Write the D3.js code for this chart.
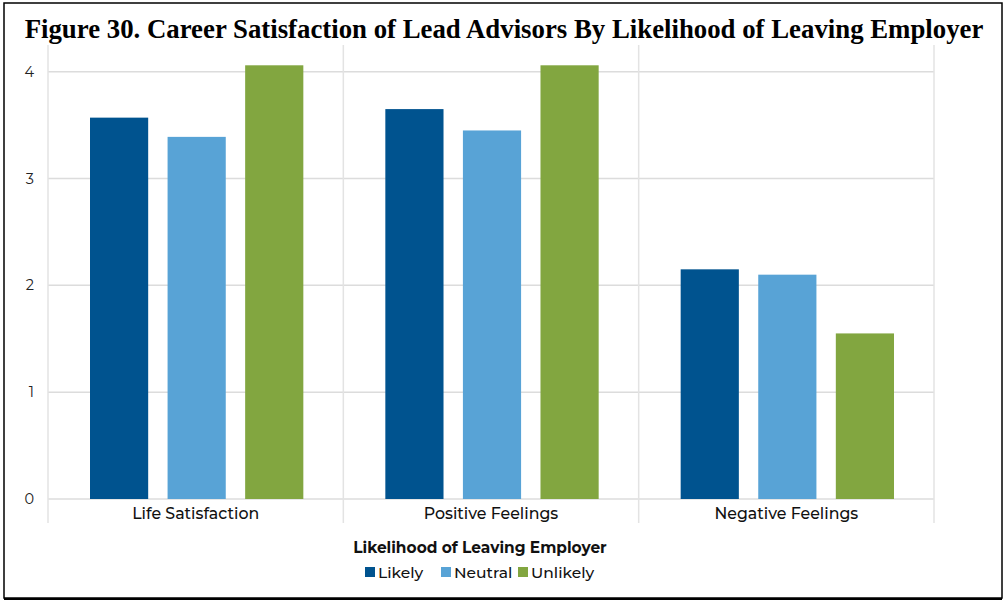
<!DOCTYPE html>
<html><head><meta charset="utf-8">
<script src="https://cdn.jsdelivr.net/npm/d3@7"></script>
<style>body{margin:0;background:#fff}svg{display:block}</style>
</head><body>
<script>
const categories = ["Life Satisfaction", "Positive Feelings", "Negative Feelings"];
const seriesNames = ["Likely", "Neutral", "Unlikely"];
const likely = [3.57, 3.65, 2.15];
const neutral = [3.39, 3.45, 2.10];
const unlikely = [4.06, 4.06, 1.55];
const yTicks = [0, 1, 2, 3, 4];
const colors = ["#00538F", "#58A3D6", "#82A640"];
const title = "Figure 30. Career Satisfaction of Lead Advisors By Likelihood of Leaving Employer";
const legendTitle = "Likelihood of Leaving Employer";

const W = 1005, H = 602;
const svg = d3.select("body").append("svg").attr("width", W).attr("height", H);
const font = "Montserrat, 'Open Sans', sans-serif";

// frame
svg.append("rect").attr("x", 4).attr("y", 3).attr("width", 998).attr("height", 595)
  .attr("fill", "none").attr("stroke", "#000").attr("stroke-width", 1.5);
svg.append("line").attr("x1", 4).attr("x2", 1002).attr("y1", 599).attr("y2", 599)
  .attr("stroke", "#000").attr("stroke-width", 2);

svg.append("text").attr("x", 504).attr("y", 38).attr("text-anchor", "middle")
  .attr("font-family", "'Liberation Serif', 'Times New Roman', serif")
  .attr("font-weight", "bold").attr("font-size", 26.8).attr("fill", "#000").text(title);

const pLeft = 48, pRight = 934, pTop = 45, pBottom = 499;
const x0 = d3.scaleBand().domain(categories).range([pLeft, pRight]).padding(0);
const x1 = d3.scaleBand().domain(seriesNames).range([42, x0.bandwidth() - 40]).paddingInner(0.25).paddingOuter(0);
const y = d3.scaleLinear().domain([0, 4.25]).range([pBottom, pTop]);

const grid = svg.append("g");
yTicks.forEach(t => {
  grid.append("line").attr("x1", pLeft).attr("x2", pRight).attr("y1", y(t)).attr("y2", y(t))
    .attr("stroke", "#dcdcdc").attr("stroke-width", 1.5);
});
const edges = categories.map(c => x0(c)).concat([pRight]);
edges.forEach(e => {
  grid.append("line").attr("x1", e).attr("x2", e).attr("y1", pTop).attr("y2", 523)
    .attr("stroke", "#e3e3e3").attr("stroke-width", 1.5);
});

const yAxis = d3.axisLeft(y).tickValues(yTicks).tickSize(0).tickPadding(14).tickFormat(d3.format("d"));
const ya = svg.append("g").attr("transform", `translate(${pLeft},0)`).call(yAxis);
ya.select(".domain").remove();
ya.selectAll("text").attr("font-family", font).attr("font-size", 14.5).attr("fill", "#222");

const xAxis = d3.axisBottom(x0).tickSize(0).tickPadding(9);
const xa = svg.append("g").attr("transform", `translate(0,${pBottom})`).call(xAxis);
xa.select(".domain").remove();
xa.selectAll("text").attr("font-family", font).attr("font-size", 15.8).attr("font-weight", 500).attr("fill", "#111");

const series = [likely, neutral, unlikely];
categories.forEach((c, ci) => {
  const g = svg.append("g").attr("transform", `translate(${x0(c)},0)`);
  seriesNames.forEach((s, si) => {
    const v = series[si][ci];
    g.append("rect").attr("x", x1(s)).attr("y", y(v)).attr("width", x1.bandwidth())
      .attr("height", y(0) - y(v)).attr("fill", colors[si]);
  });
});

svg.append("text").attr("x", 480).attr("y", 553).attr("text-anchor", "middle")
  .attr("font-family", font).attr("font-weight", "bold").attr("font-size", 15.4)
  .attr("fill", "#111").text(legendTitle);

const lg = svg.append("g");
const legX = [365, 441, 518];
seriesNames.forEach((s, i) => {
  lg.append("rect").attr("x", legX[i]).attr("y", 567).attr("width", 10).attr("height", 10).attr("fill", colors[i]);
  lg.append("text").attr("x", legX[i] + 13).attr("y", 578).attr("font-family", font)
    .attr("font-size", 15.5).attr("font-weight", 500).attr("fill", "#111").text(s);
});
</script>
</body></html>
